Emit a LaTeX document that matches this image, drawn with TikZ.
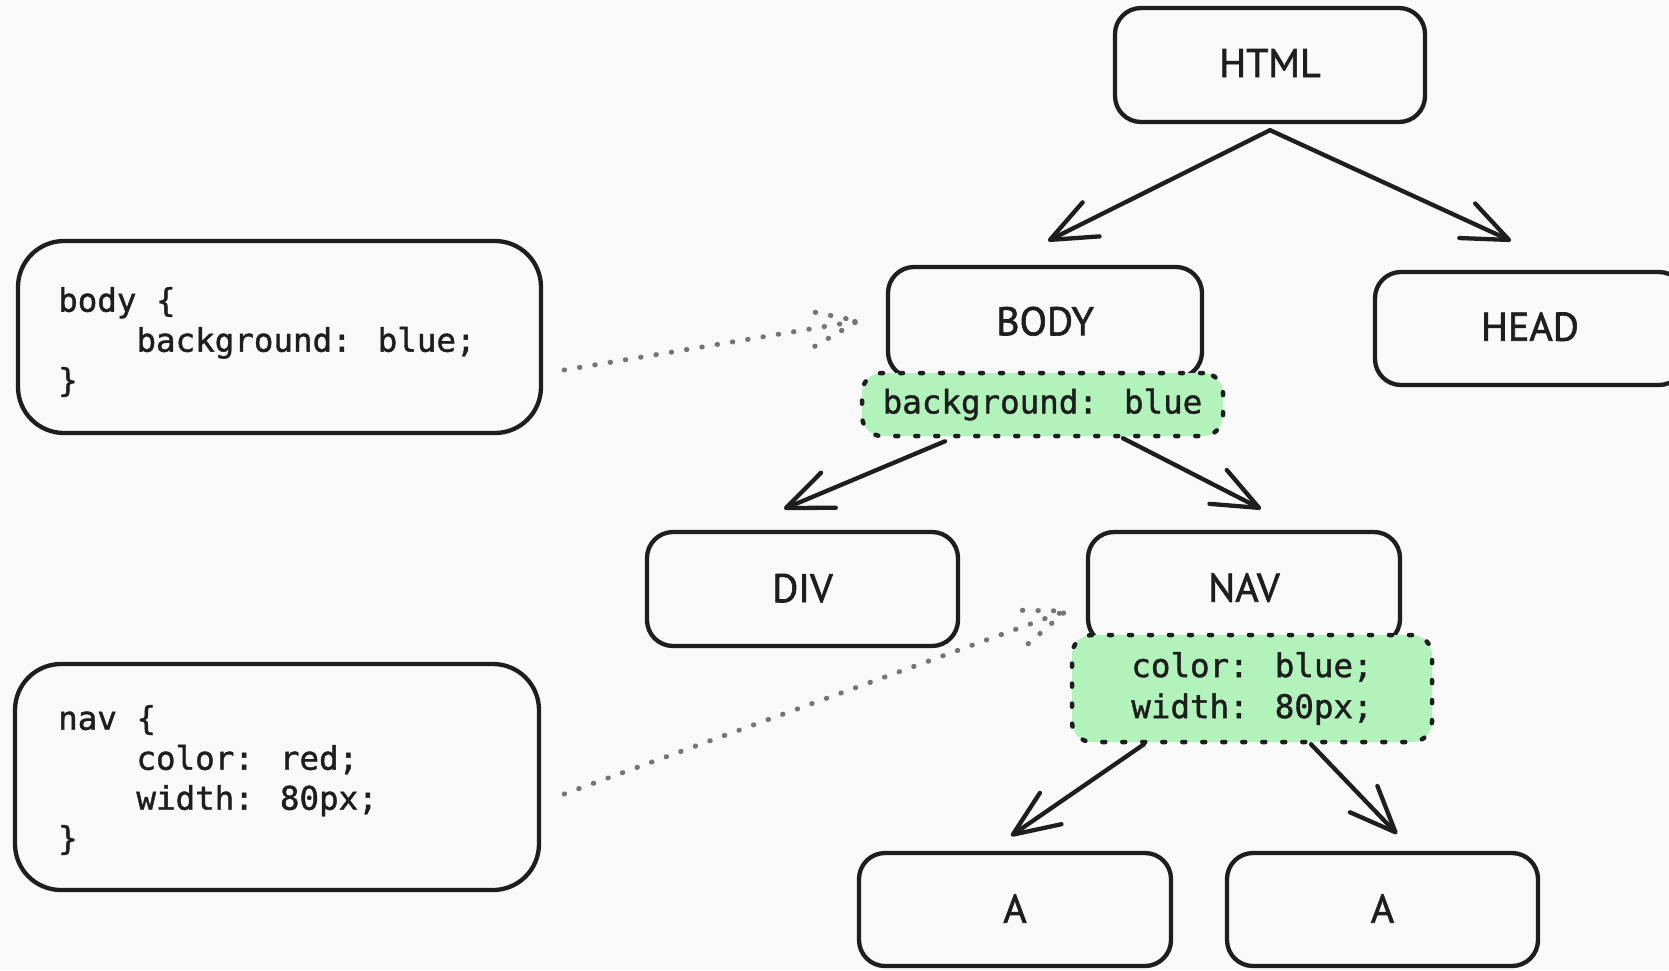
\documentclass[tikz,border=0pt]{standalone}
\usepackage{fontspec}
\setmainfont[BoldFont=PT Sans, BoldFeatures={FakeBold=1.6}]{PT Sans}
\newfontfamily\codefont[BoldFont=DejaVu Sans Mono, BoldFeatures={FakeBold=1.3}]{DejaVu Sans Mono}
\usetikzlibrary{arrows.meta,calc}
\definecolor{bg}{RGB}{249,249,249}
\definecolor{ink}{RGB}{30,30,30}
\definecolor{mint}{HTML}{B2F2BB}
\definecolor{dotgray}{RGB}{117,117,117}
\begin{document}
\begin{tikzpicture}[x=1pt,y=-1pt,
  box/.style={draw=ink, fill=bg, line width=4.3pt, rounded corners=26pt, inner sep=0pt,
    font=\bfseries\fontsize{40}{48}\selectfont, text=ink},
  codebox/.style={draw=ink, line width=4.3pt, rounded corners=46pt, inner sep=0pt},
  codetxt/.style={inner sep=0pt, align=left, text=ink, font=\codefont\bfseries\fontsize{32.5}{40}\selectfont},
  hilite/.style={draw=ink, fill=mint, line width=4.5pt, dash pattern=on 3pt off 17pt, line cap=round,
    rounded corners=20pt, inner sep=0pt, align=center, text=ink, font=\codefont\bfseries\fontsize{32.5}{41}\selectfont},
  arr/.style={draw=ink, line width=4.3pt, line cap=round, line join=round,
    -{Straight Barb[length=46pt,width=38pt,line cap=round,line join=round]}},
  dotline/.style={draw=dotgray, line width=5pt, line cap=round, dash pattern=on 0.5pt off 15pt}
]
\useasboundingbox (0,0) rectangle (1669,970);
\fill[bg] (0,0) rectangle (1669,970);
\clip (0,0) rectangle (1669,970);

% tree nodes
\node[box, minimum width=310pt, minimum height=114pt] (html) at (1270,65) {\raisebox{4pt}{HTML}};
\node[box, minimum width=314pt, minimum height=111pt] (body) at (1045,322.5) {\raisebox{3pt}{BODY}};
\node[hilite, minimum width=361pt, minimum height=63pt] (bodyg) at (1042.5,404.5) {\raisebox{-3pt}{background: blue}};
\node[box, minimum width=310pt, minimum height=113pt] (head) at (1530,328.5) {\raisebox{4pt}{HEAD}};
\node[box, minimum width=311pt, minimum height=114pt] (div) at (802.5,589) {\raisebox{2pt}{DIV}};
\node[box, minimum width=312pt, minimum height=113pt] (nav) at (1244,588.5) {\raisebox{2pt}{NAV}};
\node[hilite, minimum width=360pt, minimum height=107pt] (navg) at (1252,688.5) {color: blue;\\width: 80px;};
\node[box, minimum width=312pt, minimum height=113pt] (a1) at (1015,909.5) {\raisebox{2pt}{A}};
\node[box, minimum width=311pt, minimum height=113pt] (a2) at (1382.5,909.5) {\raisebox{2pt}{A}};

% code boxes
\node[codebox, minimum width=523pt, minimum height=192pt] (code1) at (279.5,337) {};
\node[codetxt, anchor=west] (code1txt) at (58,342) {body \{\\\phantom{xxxx}background: blue;\\\}};
\node[codebox, minimum width=524pt, minimum height=226pt] (code2) at (277,777) {};
\node[codetxt, anchor=west] (code2txt) at (58,780) {nav \{\\\phantom{xxxx}color: red;\\\phantom{xxxx}width: 80px;\\\}};

% tree connectors
\draw[arr] ([yshift=-6pt]html.south) -- ([xshift=3pt,yshift=24pt]body.north);
\draw[arr] ([yshift=-6pt]html.south) -- ([xshift=-19pt,yshift=29pt]head.north);
\draw[arr] ([xshift=-97.5pt,yshift=-3pt]bodyg.south) -- ([xshift=-18.5pt,yshift=21pt]div.north);
\draw[arr] ([xshift=80.5pt]bodyg.south) -- ([xshift=17pt,yshift=21pt]nav.north);
\draw[arr] ([xshift=-108pt,yshift=0pt]navg.south) -- ([xshift=-4pt,yshift=15pt]a1.north);
\draw[arr] ([xshift=59pt,yshift=0pt]navg.south) -- ([xshift=14.5pt,yshift=17pt]a2.north);

% dotted links from CSS rules
\coordinate (s1) at ([xshift=21pt,yshift=-33pt]code1.east);
\coordinate (t1) at ([xshift=-28pt,yshift=1.5pt]body.west);
\draw[dotline] (s1) -- (t1);
\draw[dotline] ($(t1)!50pt!21:(s1)$) -- (t1) -- ($(t1)!50pt!-21:(s1)$);
\coordinate (s2) at ([xshift=23pt,yshift=-17pt]code2.east);
\coordinate (t2) at ([xshift=-20pt,yshift=-22.5pt]nav.west);
\draw[dotline] (s2) -- (t2);
\draw[dotline] ($(t2)!50pt!21:(s2)$) -- (t2) -- ($(t2)!50pt!-21:(s2)$);
\end{tikzpicture}
\end{document}
